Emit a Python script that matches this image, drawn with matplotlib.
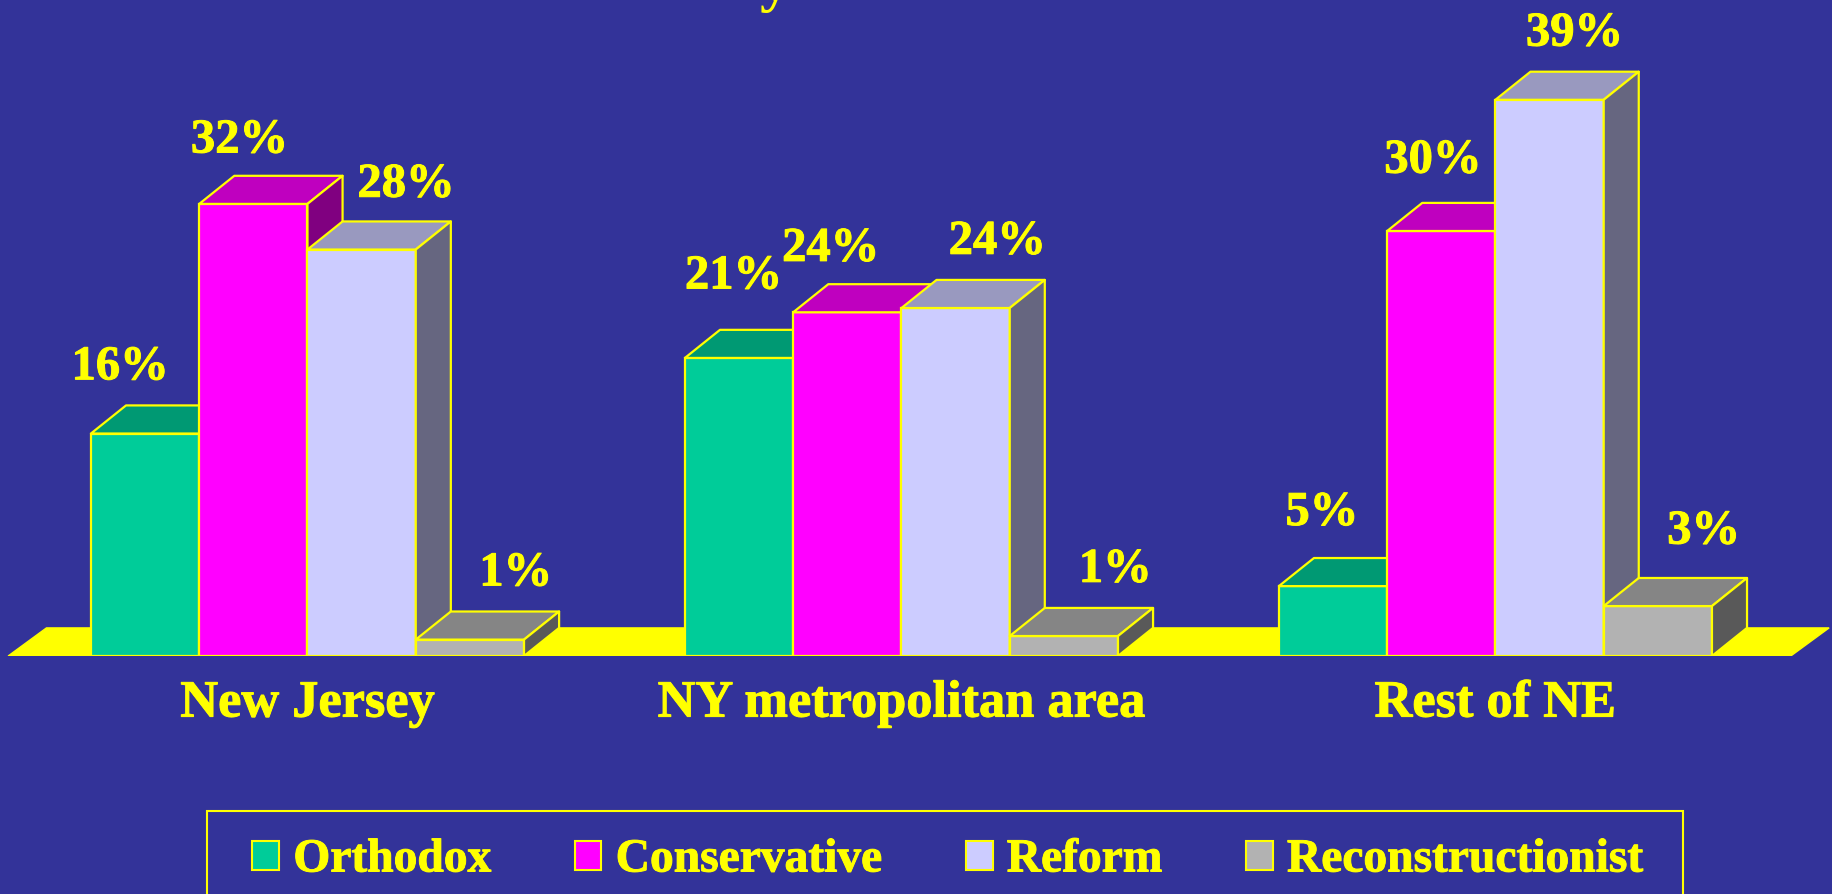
import matplotlib
matplotlib.use("Agg")
import matplotlib.pyplot as plt
import matplotlib.patheffects as pe
from matplotlib.patches import Patch, Polygon, Rectangle

categories = ["New Jersey", "NY metropolitan area", "Rest of NE"]
series = ["Orthodox", "Conservative", "Reform", "Reconstructionist"]
orthodox = [15.6, 20.9, 4.9]
conservative = [31.7, 24.1, 29.8]
reform = [28.5, 24.4, 39.0]
reconstructionist = [1.15, 1.4, 3.5]
orthodox_labels = ["16%", "21%", "5%"]
conservative_labels = ["32%", "24%", "30%"]
reform_labels = ["28%", "24%", "39%"]
reconstructionist_labels = ["1%", "1%", "3%"]

BG = "#333399"
YELLOW = "#FFFF00"
front_colors = ["#00CC99", "#FF00FF", "#CCCCFF", "#B2B2B2"]
top_colors = ["#009973", "#BF00BF", "#9999BF", "#858585"]
side_colors = ["#006650", "#800080", "#666680", "#595959"]

# label offsets from the bar's top centre, in points
label_dx = [[-18, -10, 32, 33], [-4, -12, 30, 37], [-8, -6, 18, 33]]
label_dy = [[39, 37, 38, 39], [50, 37, 39, 39], [44, 42, 39, 45]]

plt.rcParams["font.family"] = ["Liberation Serif", "DejaVu Serif"]
plt.rcParams["font.weight"] = "bold"

fig = plt.figure(figsize=(18.33, 8.95), dpi=100, facecolor=BG)
ax = fig.add_axes([0, 1 - 657 / 895, 1, 657 / 895], facecolor="none")

bar_w = 1.0
gap = 5.486
dx = 0.324
dy = 1.97
x_left = -2.84
x_right = 14.09
ax.set_xlim(x_left, x_right)
ax.set_ylim(0, 657 / (12.2 * 1.169))

centers = [i * gap for i in range(len(categories))]
heavy = [pe.withStroke(linewidth=0.7, foreground=YELLOW)]

plate = Polygon([(-2.765, 0), (13.70, 0), (13.70 + dx + 0.03, dy), (-2.765 + dx + 0.03, dy)],
                facecolor=YELLOW, edgecolor=YELLOW, linewidth=1, zorder=1)
ax.add_patch(plate)


def draw_bar(ax, x, h, front, top, side, z):
    ax.bar(x, h, width=bar_w, align="edge", color=front, edgecolor=YELLOW, linewidth=1.6, zorder=z)
    ax.add_patch(Polygon([(x, h), (x + bar_w, h), (x + bar_w + dx, h + dy), (x + dx, h + dy)],
                         facecolor=top, edgecolor=YELLOW, linewidth=1.6, zorder=z, joinstyle="round"))
    ax.add_patch(Polygon([(x + bar_w, 0), (x + bar_w + dx, dy), (x + bar_w + dx, h + dy), (x + bar_w, h)],
                         facecolor=side, edgecolor=YELLOW, linewidth=1.6, zorder=z, joinstyle="round"))


values = [orthodox, conservative, reform, reconstructionist]
labels = [orthodox_labels, conservative_labels, reform_labels, reconstructionist_labels]

z = 2
for g, c in enumerate(centers):
    for s in range(len(series)):
        x = c - 2 * bar_w + s * bar_w
        h = values[s][g]
        draw_bar(ax, x, h, front_colors[s], top_colors[s], side_colors[s], z)
        z += 1
        ax.annotate(labels[s][g], xy=(x + bar_w / 2, h), xytext=(label_dx[g][s], label_dy[g][s]),
                    textcoords="offset points", ha="center", va="baseline",
                    color=YELLOW, fontsize=35, fontweight="bold", zorder=100, path_effects=heavy)

ax.set_xticks(centers)
ax.set_xticklabels(categories, fontsize=37.7, fontweight="bold", color=YELLOW, path_effects=heavy)
ax.tick_params(axis="x", length=0, pad=17)
ax.set_yticks([])
for sp in ax.spines.values():
    sp.set_visible(False)

# the title is cut off by the top edge, only this descender is left
fig.text(775 / 1833, 1.0, "y", color=YELLOW, fontsize=44, fontweight="bold", ha="center", va="baseline")

# legend frame runs past the bottom of the picture, so it is drawn on its own
fig.add_artist(Rectangle((207 / 1833, -0.05), (1683 - 207) / 1833, 1 - 812 / 895 + 0.05,
                         transform=fig.transFigure, facecolor="none", edgecolor=YELLOW, linewidth=1.5))

handles = [Patch(facecolor=front_colors[i], edgecolor=YELLOW, linewidth=1.5) for i in range(4)]
leg = fig.legend(handles, series, ncol=4, loc="center left", bbox_to_anchor=(252.5 / 1833, 1 - 861.5 / 895),
                 bbox_transform=fig.transFigure, borderaxespad=0, borderpad=0,
                 handlelength=0.56, handleheight=0.56, handletextpad=0.3, columnspacing=1.76,
                 frameon=False, labelcolor=YELLOW, prop={"size": 34.2, "weight": "bold"})
for t in leg.get_texts():
    t.set_path_effects(heavy)
for h in leg.legend_handles:
    h.set_y(h.get_y() - 0.5)

fig.savefig("out.png", dpi=100, facecolor=BG)
